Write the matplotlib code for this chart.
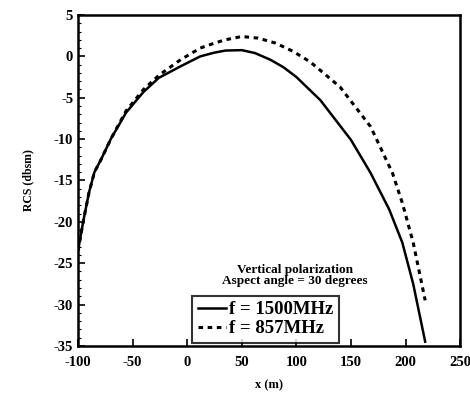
import matplotlib
matplotlib.use("Agg")
import matplotlib.pyplot as plt
from matplotlib.ticker import MultipleLocator
from matplotlib.lines import Line2D

# data #
x_1500 = [-100, -95, -90, -85, -79, -70, -56, -40, -26, -6, 12, 25, 35, 50, 62, 76, 88, 100, 122, 150, 168, 185, 197, 207, 218]
rcs_1500 = [-23.5, -19.8, -16.5, -14, -12.5, -10, -6.8, -4.3, -2.6, -1.2, 0.0, 0.45, 0.7, 0.75, 0.4, -0.4, -1.3, -2.5, -5.3, -10.1, -14.1, -18.5, -22.5, -27.5, -34.5]

x_857 = [-100, -95, -90, -85, -79, -70, -56, -40, -26, -6, 12, 25, 35, 50, 65, 81, 97, 113, 140, 168, 188, 197, 207, 218]
rcs_857 = [-23.5, -19.8, -16.5, -14, -12.5, -10, -6.6, -4.0, -2.3, -0.4, 1.0, 1.6, 2.0, 2.4, 2.2, 1.6, 0.6, -0.7, -3.7, -8.5, -14.1, -17.7, -22.5, -29.5]

xticks = [-100, -50, 0, 50, 100, 150, 200, 250]
yticks = [5, 0, -5, -10, -15, -20, -25, -30, -35]
labels = ["f = 1500MHz", "f = 857MHz"]

plt.rcParams['font.family'] = ['Liberation Serif', 'DejaVu Serif']
plt.rcParams['axes.unicode_minus'] = False

fig = plt.figure(figsize=(4.7, 4.05), dpi=100)
ax = fig.add_axes([0.166, 0.146, 0.813, 0.817])

ax.plot(x_1500, rcs_1500, color='black', lw=1.8)
ax.plot(x_857, rcs_857, color='black', lw=2.2, linestyle=(0, (1.5, 1.5)))

ax.set_xlim(-100, 250)
ax.set_ylim(-35, 5)
ax.set_xticks(xticks)
ax.set_yticks(yticks)
ax.yaxis.set_minor_locator(MultipleLocator(1))
ax.tick_params(which='both', direction='in', labelsize=10.5)
ax.tick_params(axis='x', pad=7)
ax.tick_params(which='major', length=5, width=1.2)
ax.tick_params(which='minor', length=2.5, width=0.8)
for lab in ax.get_xticklabels() + ax.get_yticklabels():
    lab.set_fontweight('bold')
for s in ax.spines.values():
    s.set_linewidth(1.8)

ax.set_ylabel("RCS (dbsm)", fontsize=8.5, labelpad=14, fontweight='bold')
ax.set_xlabel("x (m)", fontsize=9, labelpad=8, fontweight='bold')

ax.text(0.568, 0.212, "Vertical polarization\nAspect angle = 30 degrees",
        transform=ax.transAxes, ha='center', va='center', fontsize=9.5,
        fontweight='bold', linespacing=0.95)

handles = [Line2D([], [], color='black', lw=1.8),
           Line2D([], [], color='black', lw=2.2, linestyle=(0, (1.5, 1.5)))]
leg = ax.legend(handles, labels, loc='lower left', bbox_to_anchor=(0.298, 0.009),
                borderaxespad=0, frameon=True, fancybox=False, edgecolor='black',
                handlelength=1.5, handletextpad=0.2, labelspacing=0.1, borderpad=0.3,
                prop={'size': 13.5, 'weight': 'bold'})
leg.get_frame().set_linewidth(1.5)

fig.savefig("out.png", dpi=100)
